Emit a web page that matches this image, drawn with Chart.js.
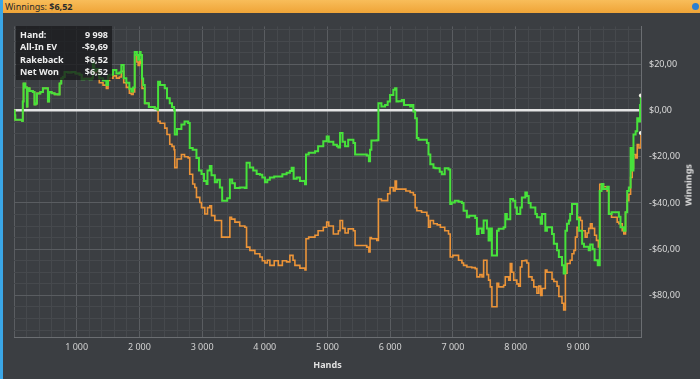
<!DOCTYPE html>
<html>
<head>
<meta charset="utf-8">
<script src="https://cdn.jsdelivr.net/npm/chart.js@4/dist/chart.umd.min.js"></script>
<style>
  html, body { margin: 0; padding: 0; background: #3b3e42; }
  body { width: 700px; height: 379px; position: relative; overflow: hidden; font-family: "Noto Sans", sans-serif; }
  #topbar { position: absolute; left: 0; top: 0; width: 700px; height: 13px; background: linear-gradient(#f8bd5a, #efa437); color: #2b2b2b; font-size: 9px; line-height: 13px; padding-left: 5px; box-sizing: border-box; }
  #dot { position: absolute; right: 1px; top: 3px; width: 7px; height: 7px; border-radius: 50%; background: #2c7fd0; }
  #strip { position: absolute; left: 0; top: 0; width: 3px; height: 379px; background: #3aa6e6; z-index: 5; }
  #wrap { position: absolute; left: 0; top: 13px; width: 700px; height: 366px; }
  #info { position: absolute; left: 16px; top: 26px; width: 96px; background: rgba(26, 27, 29, 0.78); color: #eeeeee; font-size: 9px; font-weight: bold; padding: 3px 4px 2px 4px; box-sizing: border-box; z-index: 3; }
  #info div { display: flex; justify-content: space-between; line-height: 12.3px; }
  #ytitle { position: absolute; left: 688px; top: 185px; transform: translate(-50%, -50%) rotate(-90deg); color: #e0e0e0; font-size: 9px; font-weight: bold; }
</style>
</head>
<body>
<div id="strip"></div>
<div id="topbar">Winnings: <b>$6,52</b><span id="dot"></span></div>
<div id="wrap"><canvas id="chart"></canvas></div>
<div id="info">
  <div><span>Hand:</span><span>9 998</span></div>
  <div><span>All-In EV</span><span>-$9,69</span></div>
  <div><span>Rakeback</span><span>$6,52</span></div>
  <div><span>Net Won</span><span>$6,52</span></div>
</div>
<div id="ytitle">Winnings</div>
<script>
// net won (green)
const netHands = [0, 10, 20, 130, 140, 152, 180, 205, 215, 248, 300, 327, 345, 365, 420, 461, 520, 541, 560, 600, 647, 700, 727, 754, 780, 807, 860, 920, 980, 1046, 1080, 1120, 1206, 1240, 1259, 1280, 1313, 1360, 1420, 1473, 1500, 1526, 1580, 1633, 1680, 1712, 1750, 1792, 1840, 1872, 1900, 1925, 1960, 1980, 2005, 2020, 2042, 2060, 2085, 2150, 2244, 2290, 2298, 2330, 2404, 2440, 2484, 2520, 2553, 2564, 2600, 2670, 2720, 2777, 2803, 2850, 2910, 2950, 2990, 3030, 3070, 3086, 3123, 3150, 3203, 3240, 3283, 3320, 3363, 3400, 3443, 3480, 3523, 3600, 3682, 3709, 3760, 3815, 3870, 3922, 3960, 4002, 4040, 4081, 4150, 4215, 4280, 4348, 4400, 4428, 4460, 4508, 4560, 4641, 4657, 4700, 4800, 4850, 4933, 4987, 5020, 5093, 5150, 5173, 5200, 5240, 5280, 5330, 5413, 5440, 5500, 5626, 5660, 5679, 5700, 5786, 5812, 5860, 5918, 5960, 5998, 6050, 6078, 6100, 6130, 6185, 6220, 6318, 6345, 6370, 6398, 6425, 6450, 6585, 6611, 6640, 6690, 6720, 6790, 6824, 6870, 6930, 6957, 6980, 7030, 7090, 7144, 7170, 7223, 7260, 7356, 7383, 7410, 7463, 7490, 7516, 7543, 7569, 7596, 7622, 7676, 7703, 7730, 7809, 7835, 7860, 7890, 7915, 7960, 7995, 8020, 8048, 8075, 8100, 8155, 8180, 8208, 8240, 8315, 8340, 8400, 8422, 8474, 8500, 8581, 8610, 8661, 8690, 8740, 8767, 8794, 8820, 8850, 8870, 8900, 8954, 8980, 9010, 9061, 9090, 9166, 9190, 9230, 9260, 9310, 9342, 9370, 9400, 9460, 9486, 9530, 9620, 9647, 9673, 9726, 9753, 9780, 9806, 9834, 9860, 9880, 9914, 9940, 9967, 9985, 9998];
const netWon = [0, -2, -4, -4.5, 3.9, 11.7, 10, 1.7, 9.6, 8.5, 8, 2.6, 3, 7.4, 8, 9.6, 9.6, 3.9, 8, 7.5, 7, 6.9, 11.7, 13.9, 14.5, 16.7, 16.5, 16.7, 16, 15.5, 13.5, 13.8, 13.5, 14, 21, 17, 18, 14, 13, 11, 15, 15.5, 17.5, 16, 16.5, 19.7, 14, 12, 9.4, 8.2, 10, 25.3, 24, 22, 25.3, 24, 13.9, 11, 3.1, 1.5, 0.9, 0.3, 12.4, 11, 9.6, 5.3, 3.1, 1.5, 0.3, -10.4, -8, -6.1, -4.7, -5.4, -16.2, -17, -20.5, -26, -27.5, -30.5, -31.8, -26, -24, -28, -31, -30, -33.3, -39, -39, -38, -29.8, -31.5, -33.5, -33.3, -33.5, -22.6, -24.7, -26, -27.5, -27.8, -29, -31, -30, -29, -28.5, -28.5, -27.6, -26.9, -26.2, -24.8, -29.5, -29, -30.5, -31.9, -19, -18.3, -17.6, -15.5, -13.3, -11.2, -13.5, -14.8, -15.5, -16, -9.7, -13.5, -15.5, -12.6, -14, -19, -19, -19.5, -21.9, -17, -13, -12.9, 3.1, 1.7, 2.4, 3.9, 6.7, 9, 9.6, 3.9, 4, 4.6, 2.4, 1.7, 2.4, -0.4, -3.3, -11.9, -12.6, -14, -19, -23.3, -24.8, -25, -26.5, -27.6, -25, -25.5, -40.5, -39.8, -39, -39.5, -40, -43.4, -46.2, -45.5, -46.5, -53.4, -51, -53, -47.6, -47.6, -51, -56.2, -51, -62.7, -62.7, -52, -51.2, -50.5, -44.8, -47, -47, -38.3, -39, -42, -44.8, -44.8, -42, -37.6, -35.5, -37, -40, -42, -44.8, -46.2, -49, -44.8, -52, -50.5, -53.4, -57.6, -60.5, -63.4, -67, -70.5, -52, -49, -47.6, -44.8, -40.5, -40.5, -47, -52, -57.6, -59, -60.5, -58, -60, -64.8, -67, -34.8, -31.8, -34, -33, -44.8, -44, -44, -46, -50.5, -52, -44, -34.8, -33.3, -16.2, -26, -10.4, -9, -3.3, -4.7, 2.4, 6.52];

// all-in EV (orange)
const evHands = [0, 10, 20, 130, 140, 152, 180, 205, 215, 248, 300, 327, 345, 365, 420, 461, 520, 541, 560, 600, 647, 700, 727, 754, 780, 807, 860, 920, 980, 1046, 1080, 1120, 1206, 1240, 1259, 1280, 1313, 1360, 1420, 1473, 1500, 1526, 1580, 1633, 1680, 1712, 1750, 1792, 1840, 1872, 1900, 1925, 1960, 1980, 2005, 2020, 2042, 2085, 2150, 2244, 2290, 2298, 2330, 2404, 2440, 2484, 2520, 2553, 2564, 2600, 2670, 2720, 2777, 2803, 2850, 2883, 2910, 2963, 2990, 3043, 3086, 3123, 3150, 3203, 3283, 3310, 3390, 3443, 3470, 3523, 3600, 3682, 3709, 3762, 3815, 3842, 3922, 3960, 4002, 4040, 4081, 4150, 4215, 4280, 4348, 4400, 4450, 4480, 4560, 4641, 4657, 4700, 4800, 4850, 4933, 4987, 5020, 5093, 5173, 5200, 5240, 5280, 5330, 5413, 5440, 5500, 5626, 5660, 5679, 5700, 5786, 5812, 5860, 5918, 5960, 5998, 6050, 6078, 6100, 6185, 6250, 6318, 6370, 6398, 6425, 6500, 6585, 6611, 6640, 6690, 6750, 6800, 6870, 6930, 6957, 7000, 7090, 7144, 7170, 7223, 7300, 7356, 7383, 7430, 7463, 7490, 7516, 7543, 7569, 7596, 7622, 7676, 7703, 7730, 7809, 7835, 7890, 7915, 7940, 7970, 8020, 8048, 8075, 8100, 8155, 8180, 8208, 8262, 8290, 8340, 8370, 8400, 8422, 8474, 8500, 8581, 8610, 8661, 8690, 8740, 8767, 8794, 8820, 8870, 8900, 8930, 8954, 8980, 9010, 9034, 9061, 9110, 9140, 9166, 9193, 9220, 9260, 9290, 9320, 9342, 9400, 9460, 9486, 9530, 9620, 9647, 9700, 9726, 9753, 9780, 9806, 9834, 9860, 9880, 9914, 9940, 9967, 9998];
const allInEv = [0, -2, -4, -4.5, 3.9, 11.7, 10, 1.7, 9.6, 8.5, 8, 2.6, 3, 7.4, 8, 9.6, 9.6, 3.9, 8, 7.5, 7, 6.9, 11.7, 13.9, 14.5, 16.7, 16.5, 16.7, 16, 15.5, 13.5, 13.8, 13.5, 14, 20.5, 16.5, 17, 12, 11, 9.6, 13, 14, 15, 14, 14.5, 17, 12, 10, 7.5, 6.9, 8, 24, 21, 19.5, 22, 20.5, 9.6, 3.1, 1.5, 0.9, 0.3, -4.7, -5.5, -7.6, -10.4, -14.6, -15.5, -17, -24.7, -21, -19, -20, -20.5, -27.6, -31.8, -33.3, -37.6, -39.8, -42, -44.8, -42, -41.2, -45.5, -47.6, -47.6, -54.8, -54.8, -46.2, -47, -48.3, -50, -50.5, -59.1, -60.5, -60.5, -62, -63.4, -65, -66, -64.8, -67, -65, -67, -65, -65.5, -62.7, -64.8, -67, -68.2, -69, -55.5, -54.8, -54, -52, -50.5, -48.3, -50, -53.4, -52, -47.6, -51, -53, -51.2, -52, -58.4, -58.4, -59.1, -61.2, -55, -55.5, -56.2, -38.3, -39, -39, -36, -33.3, -34.8, -30.5, -34, -34, -34.8, -35.5, -36.5, -42, -43.4, -44, -45.5, -50.5, -47.6, -49, -49.5, -50.5, -52, -53.4, -63.4, -62.7, -64.8, -66, -67, -67.7, -68, -68.4, -72, -71, -72, -64.8, -64.8, -71, -73.4, -76.3, -84.9, -84.9, -74.8, -76.3, -75.6, -72, -73.4, -66.2, -70, -73.4, -75, -76, -67.7, -65, -64.8, -66, -72, -73.4, -76.3, -79.1, -76, -80, -77, -69, -70, -73, -74, -76, -80.5, -83.4, -86.3, -70.4, -66.2, -64.8, -62, -60.5, -54.8, -50.5, -46.2, -47.6, -52, -54.8, -53, -51, -49, -51, -54, -56.2, -59, -31.9, -33, -34.8, -44.8, -46.2, -48.3, -49, -52, -53.4, -44, -39, -36.2, -29, -24.8, -19, -20.5, -14.7, -16.2, -9.69];

const yMin = -98, yMax = 36.4;

const toPoints = (xs, ys) => xs.map((x, i) => ({ x: x, y: ys[i] }));
const lastDot = ctx => ctx.dataIndex === ctx.dataset.data.length - 1 ? 2 : 0;

function money(v) {
  const s = Math.abs(v).toFixed(2).replace('.', ',');
  return (v < 0 ? '-' : '') + '$' + s;
}

const tickFont = { family: "Noto Sans", size: 9 };

new Chart(document.getElementById('chart'), {
  type: 'line',
  data: {
    datasets: [
      {
        label: 'Net Won',
        data: toPoints(netHands, netWon),
        borderColor: '#47e23b',
        borderWidth: 2,
        stepped: true,
        pointRadius: lastDot,
        pointBackgroundColor: '#f2f2e6',
        pointBorderWidth: 0
      },
      {
        label: 'All-In EV',
        data: toPoints(evHands, allInEv),
        borderColor: '#ec9438',
        borderWidth: 1.6,
        stepped: true,
        pointRadius: lastDot,
        pointBackgroundColor: '#f2f2e6',
        pointBorderWidth: 0
      }
    ]
  },
  options: {
    responsive: true,
    maintainAspectRatio: false,
    animation: false,
    layout: { padding: { left: 14, top: 11, right: 0, bottom: 0 } },
    plugins: { legend: { display: false }, tooltip: { enabled: false } },
    scales: {
      x: {
        type: 'linear',
        min: 0,
        max: 10000,
        afterFit: s => { s.height = 42; },
        border: { display: true, color: '#6b6e72' },
        grid: {
          drawTicks: false,
          color: ctx => ctx.tick.value % 1000 === 0 ? '#5a5d61' : '#46494d'
        },
        ticks: {
          stepSize: 200,
          autoSkip: false,
          maxRotation: 0,
          padding: 5,
          color: '#d2d2d2',
          font: tickFont,
          callback: v => (v % 1000 === 0 && v > 0 && v < 10000) ? (v / 1000) + ' 000' : ''
        },
        title: {
          display: true,
          text: 'Hands',
          color: '#e0e0e0',
          font: { family: "Noto Sans", size: 9, weight: 'bold' },
          padding: { top: 0, bottom: 8 }
        }
      },
      y: {
        position: 'right',
        min: yMin,
        max: yMax,
        afterFit: s => { s.width = 59; },
        afterBuildTicks: s => {
          const t = [];
          for (let v = -95; v <= 35; v += 5) t.push({ value: v });
          s.ticks = t;
        },
        border: { display: true, color: '#6b6e72' },
        grid: {
          drawTicks: false,
          color: ctx => ctx.tick.value === 0 ? '#e4e4e4' : (ctx.tick.value % 20 === 0 ? '#5a5d61' : '#46494d'),
          lineWidth: ctx => ctx.tick.value === 0 ? 2.5 : 1
        },
        ticks: {
          autoSkip: false,
          padding: 8,
          color: '#dadada',
          font: tickFont,
          callback: v => v % 20 === 0 ? money(v) : ''
        }
      }
    }
  }
});
</script>
</body>
</html>
